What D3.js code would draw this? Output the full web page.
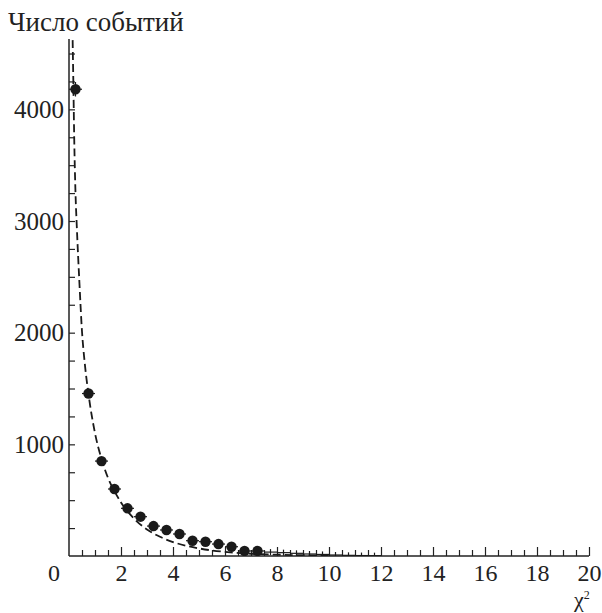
<!DOCTYPE html>
<html>
<head>
<meta charset="utf-8">
<script src="https://cdn.jsdelivr.net/npm/d3@7"></script>
<style>
  body { margin: 0; background: #fff; }
  svg { display: block; }
  .axis path, .axis line { stroke: #222; }
</style>
</head>
<body>
<svg width="602" height="613"></svg>
<script>
// histogram points (bin centres, counts, vertical errors)
const binX = [0.25, 0.75, 1.25, 1.75, 2.25, 2.75, 3.25, 3.75, 4.25, 4.75, 5.25, 5.75, 6.25, 6.75, 7.25];
const counts = [4180, 1455, 850, 600, 427, 352, 268, 233, 197, 137, 128, 107, 83, 45, 45];
const countErr = [65, 38, 29, 25, 21, 19, 16, 15, 14, 12, 11, 10, 9, 7, 7];

// tail bins with very few events (error crosses only)
const tailX = [7.75, 8.25, 8.75, 9.25, 9.75, 10.25, 10.75, 11.25, 11.75];
const tailCounts = [35, 30, 24, 18, 14, 9, 6, 4, 3];

// dashed curve
const curveX = [0.14, 0.17, 0.2, 0.25, 0.3, 0.4, 0.5, 0.6, 0.75, 1.0, 1.25, 1.5, 1.75, 2.0, 2.5, 3.0, 3.5, 4.0, 4.5, 5.0, 5.5, 6.0, 7.0, 8.0, 9.0, 10.0];
const curveY = [4620, 4200, 3750, 3250, 2950, 2450, 2010, 1740, 1450, 1100, 870, 700, 580, 480, 335, 238, 172, 125, 92, 68, 50, 37, 20, 12, 7, 4];

const yLabels = [1000, 2000, 3000, 4000];
const xLabels = [2, 4, 6, 8, 10, 12, 14, 16, 18, 20];

const serif = '"Liberation Serif", "Times New Roman", Times, "DejaVu Serif", serif';
const fontSize = 25;

const svg = d3.select('svg');

const x = d3.scaleLinear().domain([0, 20]).range([69, 589]);
const y = d3.scaleLinear().domain([0, 4630]).range([556, 39]);

svg.append('clipPath')
    .attr('id', 'plot')
  .append('rect')
    .attr('x', 69)
    .attr('y', 39)
    .attr('width', 520)
    .attr('height', 517);

// minor ticks on x
svg.append('g')
    .attr('class', 'axis')
    .attr('transform', 'translate(0,556)')
    .call(d3.axisBottom(x)
      .tickValues(d3.range(0.5, 20, 0.5).filter(v => v % 2 !== 0))
      .tickSize(-6)
      .tickFormat(''))
    .call(g => g.select('.domain').remove())
    .selectAll('line').attr('stroke-width', 1.2);

// major ticks + labels on x
svg.append('g')
    .attr('class', 'axis')
    .attr('transform', 'translate(0,556)')
    .call(d3.axisBottom(x)
      .tickValues(xLabels)
      .tickSize(-9)
      .tickFormat(d3.format('d')))
    .call(g => g.attr('font-family', serif).attr('font-size', 24))
    .call(g => g.select('.domain').attr('stroke-width', 1.5).attr('d', 'M69,0H589'))
    .call(g => g.selectAll('line').attr('stroke-width', 1.2))
    .call(g => g.selectAll('text').attr('fill', '#222').attr('y', 8).attr('dy', '0.71em'));

// y ticks
svg.append('g')
    .attr('class', 'axis')
    .attr('transform', 'translate(69,0)')
    .call(d3.axisLeft(y)
      .tickValues(d3.range(250, 4630, 250))
      .tickSize(-6)
      .tickFormat(''))
    .call(g => g.select('.domain').attr('stroke-width', 1.5).attr('d', 'M0,556V39'))
    .selectAll('line').attr('stroke-width', 1.2);

svg.append('g')
    .attr('class', 'axis')
    .attr('transform', 'translate(69,0)')
    .call(d3.axisLeft(y)
      .tickValues(yLabels)
      .tickSize(0)
      .tickPadding(5)
      .tickFormat(d3.format('d')))
    .call(g => g.attr('font-family', serif).attr('font-size', fontSize))
    .call(g => g.selectAll('text').attr('fill', '#222'))
    .call(g => g.select('.domain').remove());

// origin label
svg.append('text')
    .attr('x', 54)
    .attr('y', 581)
    .attr('text-anchor', 'middle')
    .attr('fill', '#222')
    .attr('font-family', serif)
    .attr('font-size', 24)
    .text('0');

// axis titles
svg.append('text')
    .attr('x', 8)
    .attr('y', 31)
    .attr('fill', '#222')
    .attr('font-family', serif)
    .attr('font-size', 27)
    .text('Число событий');

const chi = svg.append('text')
    .attr('x', 574)
    .attr('y', 607)
    .attr('fill', '#222')
    .attr('font-family', serif)
    .attr('font-size', 22);
chi.append('tspan').text('χ');
chi.append('tspan')
    .attr('font-size', 12)
    .attr('dy', -8)
    .text('2');

const plot = svg.append('g').attr('clip-path', 'url(#plot)');

// dashed curve
const line = d3.line()
    .x((d, i) => x(curveX[i]))
    .y(d => y(d))
    .curve(d3.curveMonotoneX);

plot.append('path')
    .datum(curveY)
    .attr('d', line)
    .attr('fill', 'none')
    .attr('stroke', '#1a1a1a')
    .attr('stroke-width', 1.8)
    .attr('stroke-dasharray', '8,4');

// tail error crosses
const tail = plot.append('g')
    .selectAll('g')
    .data(tailCounts)
    .enter()
    .append('g');

tail.append('line')
    .attr('x1', (d, i) => x(tailX[i] - 0.25))
    .attr('x2', (d, i) => x(tailX[i] + 0.25))
    .attr('y1', d => y(d))
    .attr('y2', d => y(d))
    .attr('stroke', '#1a1a1a')
    .attr('stroke-width', 1.2);

tail.append('line')
    .attr('x1', (d, i) => x(tailX[i]))
    .attr('x2', (d, i) => x(tailX[i]))
    .attr('y1', d => y(d) - 3)
    .attr('y2', d => Math.min(y(d) + 3, 556))
    .attr('stroke', '#1a1a1a')
    .attr('stroke-width', 1.2);

// main points with error bars
const pts = plot.append('g')
    .selectAll('g')
    .data(counts)
    .enter()
    .append('g');

pts.append('line')
    .attr('x1', (d, i) => x(binX[i] - 0.25))
    .attr('x2', (d, i) => x(binX[i] + 0.25))
    .attr('y1', d => y(d))
    .attr('y2', d => y(d))
    .attr('stroke', '#1a1a1a')
    .attr('stroke-width', 1.2);

pts.append('line')
    .attr('x1', (d, i) => x(binX[i]))
    .attr('x2', (d, i) => x(binX[i]))
    .attr('y1', (d, i) => y(d + countErr[i]))
    .attr('y2', (d, i) => y(d - countErr[i]))
    .attr('stroke', '#1a1a1a')
    .attr('stroke-width', 1.2);

pts.append('circle')
    .attr('cx', (d, i) => x(binX[i]))
    .attr('cy', d => y(d))
    .attr('r', 5.2)
    .attr('fill', '#1a1a1a');
</script>
</body>
</html>
